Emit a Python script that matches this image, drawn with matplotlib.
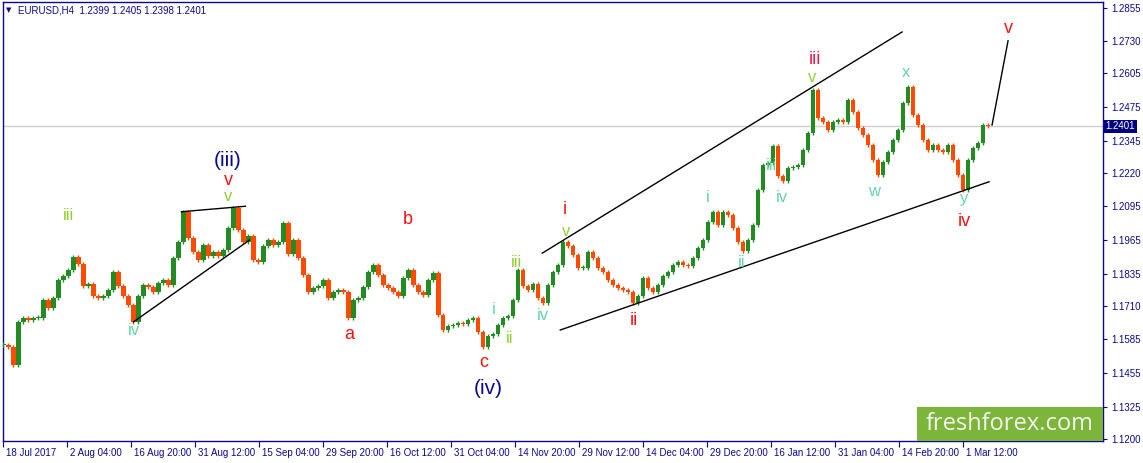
import numpy as np
import matplotlib
matplotlib.use('Agg')
import matplotlib.pyplot as plt
from matplotlib.patches import Rectangle
import matplotlib.transforms as mtransforms

# ---------------- data ----------------
# closing prices sampled every 5 H4 bars
closes = [
    1.1561, 1.1554, 1.1484, 1.1650, 1.1665, 1.1657, 1.1665, 1.1665, 1.1734, 1.1703,
    1.1742, 1.1811, 1.1826, 1.1849, 1.1900, 1.1872, 1.1788, 1.1795, 1.1749, 1.1742,
    1.1749, 1.1772, 1.1842, 1.1788, 1.1749, 1.1715, 1.1650, 1.1749, 1.1792, 1.1784,
    1.1765, 1.1799, 1.1811, 1.1792, 1.1895, 1.1957, 1.2072, 1.1972, 1.1918, 1.1888,
    1.1945, 1.1903, 1.1918, 1.1903, 1.1926, 1.2010, 1.2087, 1.2003, 1.1957, 1.1980,
    1.1888, 1.1880, 1.1941, 1.1964, 1.1945, 1.1957, 1.2030, 1.1911, 1.1964, 1.1895,
    1.1830, 1.1765, 1.1780, 1.1788, 1.1811, 1.1742, 1.1765, 1.1772, 1.1765, 1.1665,
    1.1734, 1.1742, 1.1784, 1.1842, 1.1868, 1.1830, 1.1792, 1.1780, 1.1765, 1.1749,
    1.1818, 1.1849, 1.1792, 1.1765, 1.1753, 1.1811, 1.1838, 1.1676, 1.1619, 1.1634,
    1.1638, 1.1646, 1.1642, 1.1657, 1.1665, 1.1611, 1.1554, 1.1596, 1.1603, 1.1638,
    1.1665, 1.1673, 1.1734, 1.1849, 1.1788, 1.1772, 1.1795, 1.1742, 1.1722, 1.1792,
    1.1842, 1.1868, 1.1957, 1.1941, 1.1907, 1.1857, 1.1857, 1.1918, 1.1895, 1.1857,
    1.1842, 1.1811, 1.1792, 1.1780, 1.1772, 1.1765, 1.1722, 1.1749, 1.1818, 1.1780,
    1.1765, 1.1792, 1.1826, 1.1842, 1.1868, 1.1880, 1.1868, 1.1865, 1.1895, 1.1934,
    1.1964, 1.2034, 1.2072, 1.2022, 1.2072, 1.2060, 1.2010, 1.1957, 1.1922, 1.1964,
    1.2022, 1.2156, 1.2252, 1.2260, 1.2325, 1.2210, 1.2190, 1.2241, 1.2245, 1.2252,
    1.2310, 1.2375, 1.2540, 1.2433, 1.2418, 1.2387, 1.2418, 1.2425, 1.2418, 1.2502,
    1.2456, 1.2394, 1.2368, 1.2329, 1.2272, 1.2214, 1.2264, 1.2302, 1.2348, 1.2387,
    1.2490, 1.2552, 1.2444, 1.2406, 1.2348, 1.2310, 1.2329, 1.2310, 1.2302, 1.2329,
    1.2272, 1.2214, 1.2156, 1.2272, 1.2318, 1.2337, 1.2406, 1.2401,
]
bar_step = 5

x_tick_bars = [0, 64, 128, 192, 256, 320, 384, 448, 512, 576, 640, 704, 768, 832, 896, 960]
x_tick_labels = ['18 Jul 2017', '2 Aug 04:00', '16 Aug 20:00', '31 Aug 12:00', '15 Sep 04:00',
                 '29 Sep 20:00', '16 Oct 12:00', '31 Oct 04:00', '14 Nov 20:00', '29 Nov 12:00',
                 '14 Dec 04:00', '29 Dec 20:00', '16 Jan 12:00', '31 Jan 04:00', '14 Feb 20:00',
                 '1 Mar 12:00']

y_tick_values = [1.2855, 1.2730, 1.2605, 1.2475, 1.2345, 1.2220, 1.2095,
                 1.1965, 1.1835, 1.1710, 1.1585, 1.1455, 1.1325, 1.1200]
y_tick_labels = ['1.2855', '1.2730', '1.2605', '1.2475', '1.2345', '1.2220', '1.2095',
                 '1.1965', '1.1835', '1.1710', '1.1585', '1.1455', '1.1325', '1.1200']

last_price = 1.2401
header_text = 'EURUSD,H4  1.2399 1.2405 1.2398 1.2401'

YG = '#92D030'
AQ = '#62D6A6'
RED = '#FF1010'
CRIM = '#F0164A'
NAVY = '#0A0A8C'
# (text, bar, price, color, fontsize)
wave_labels = [
    ('iii', 65, 1.2060, YG, 12), ('iv', 130, 1.1619, AQ, 12),
    ('(iii)', 224, 1.2268, NAVY, 15), ('v', 225, 1.2191, RED, 13), ('v', 225, 1.2130, YG, 12),
    ('a', 346, 1.1600, RED, 13), ('b', 404, 1.2045, RED, 13), ('c', 480, 1.1496, RED, 13),
    ('(iv)', 485, 1.1396, NAVY, 15),
    ('i', 490, 1.1696, AQ, 12), ('ii', 506, 1.1588, YG, 12), ('iii', 513, 1.1880, YG, 12),
    ('iv', 540, 1.1676, AQ, 12), ('v', 563, 1.1999, YG, 12), ('i', 562, 1.2080, RED, 13),
    ('ii', 631, 1.1657, RED, 13),
    ('i', 705, 1.2126, AQ, 12), ('ii', 738, 1.1880, AQ, 12), ('iii', 768, 1.2249, AQ, 12),
    ('iv', 779, 1.2126, AQ, 12), ('v', 809, 1.2590, YG, 12), ('iii', 812, 1.2656, CRIM, 13),
    ('w', 871, 1.2149, AQ, 12), ('x', 903, 1.2606, AQ, 12), ('y', 961, 1.2122, AQ, 12),
    ('iv', 961, 1.2034, RED, 13), ('v', 1005, 1.2778, RED, 13),
]

# trend lines: (bar0, price0, bar1, price1)
trendlines = [
    (178, 1.2073, 242, 1.2094),
    (130, 1.1650, 246, 1.1964),
    (539, 1.1914, 899, 1.2763),
    (557, 1.1619, 986, 1.2188),
    (989, 1.2406, 1005, 1.2729),
]

# ---------------- figure ----------------
W, H = 1143, 463
fig = plt.figure(figsize=(W / 100, H / 100), dpi=100)
fig.patch.set_facecolor('white')
ax = fig.add_axes([3 / W, 22 / H, 1100 / W, 439 / H])
ax.set_facecolor('white')

closes_a = np.array(closes)
opens_a = np.concatenate([[closes_a[0]], closes_a[:-1]])
xs = np.arange(len(closes_a)) * bar_step
up = closes_a >= opens_a
colors = np.where(up, '#228B22', '#FF4A00')
bottoms = np.minimum(opens_a, closes_a)
heights = np.maximum(np.abs(closes_a - opens_a), 0.00035)
ax.vlines(xs, bottoms - 0.0008, bottoms + heights + 0.0008, colors=colors, linewidth=1, zorder=3)
ax.bar(xs, heights, bottom=bottoms, width=4.4, color=colors, linewidth=0, zorder=3)

ax.axhline(last_price, color='#CFCFCF', lw=1, zorder=1)

for b0, p0, b1, p1 in trendlines:
    ax.plot([b0, b1], [p0, p1], color='black', lw=1, zorder=4)

for t, b, p, c, s in wave_labels:
    ax.text(b, p, t, color=c, fontsize=s, ha='center', va='center',
            family=['Liberation Sans', 'DejaVu Sans'], zorder=5)

ax.set_xlim(-0.5, 1100)
ax.set_ylim(1.1193, 1.2878)

# ticks
ax.yaxis.tick_right()
ax.set_yticks(y_tick_values)
ax.set_yticklabels(y_tick_labels)
ax.set_xticks(x_tick_bars)
ax.set_xticklabels(x_tick_labels)
ax.tick_params(axis='both', direction='out', color=NAVY, labelcolor=NAVY, labelsize=7)
ax.tick_params(axis='y', length=3, pad=3)
ax.tick_params(axis='x', length=4, pad=1)
offset = mtransforms.ScaledTranslation(3 / 100, 0, fig.dpi_scale_trans)
for lab in ax.get_xticklabels():
    lab.set_horizontalalignment('left')
    lab.set_transform(lab.get_transform() + offset)
    lab.set_family(['Liberation Sans', 'DejaVu Sans'])
for lab in ax.get_yticklabels():
    lab.set_family(['Liberation Sans', 'DejaVu Sans'])
for sp in ax.spines.values():
    sp.set_color(NAVY)
    sp.set_linewidth(1)

# current price tag
trans = mtransforms.blended_transform_factory(ax.transAxes, ax.transData)
ax.text(1.0025, last_price, '1.2401', transform=trans, ha='left', va='center',
        color='white', fontsize=7, family=['Liberation Sans', 'DejaVu Sans'],
        bbox=dict(boxstyle='square,pad=0.15', facecolor='#000080', edgecolor='none'),
        clip_on=False, zorder=6)

# header
ax.text(0.003, 0.981, '\u25BC', transform=ax.transAxes, ha='left', va='center',
        color=NAVY, fontsize=5, family='DejaVu Sans')
ax.text(0.0135, 0.981, header_text, transform=ax.transAxes, ha='left', va='center',
        color=NAVY, fontsize=7, family=['Liberation Sans', 'DejaVu Sans'])

# watermark
ax.add_patch(Rectangle((914 / 1100, 0), 186 / 1100, 34 / 439, transform=ax.transAxes,
                       facecolor='#7DB53B', edgecolor='none', zorder=7))
ax.text(1007 / 1100, 17 / 439, 'freshforex.com', transform=ax.transAxes, ha='center',
        va='center', color='#F4F7F0', fontsize=17, family=['Open Sans', 'DejaVu Sans'], zorder=8)

fig.savefig('out.png', dpi=100, facecolor='white')
